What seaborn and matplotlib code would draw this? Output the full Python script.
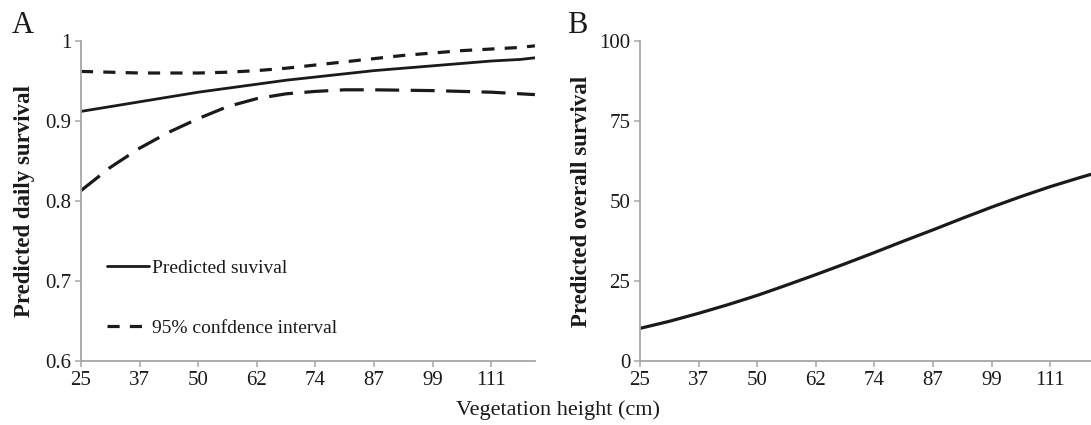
import numpy as np
import pandas as pd
import matplotlib
matplotlib.use("Agg")
import matplotlib.pyplot as plt
import seaborn as sns

# -------------------- Data --------------------
veg_height = [25, 31.17, 37.33, 43.5, 49.67, 55.83, 62, 68.17, 74.33, 80.5,
              86.67, 92.83, 99, 105.17, 111.33, 117.5, 120.5]
daily_pred = [0.912, 0.918, 0.924, 0.930, 0.936, 0.941, 0.946, 0.951, 0.955,
              0.959, 0.963, 0.966, 0.969, 0.972, 0.975, 0.977, 0.979]
daily_upper = [0.962, 0.961, 0.960, 0.960, 0.960, 0.961, 0.963, 0.966, 0.970,
               0.974, 0.978, 0.982, 0.985, 0.988, 0.990, 0.992, 0.994]
daily_lower = [0.813, 0.842, 0.866, 0.886, 0.903, 0.918, 0.928, 0.934, 0.937,
               0.939, 0.939, 0.9385, 0.938, 0.937, 0.936, 0.934, 0.933]
overall_pred = [10.2, 12.4, 14.9, 17.6, 20.5, 23.7, 27.0, 30.4, 33.9, 37.5,
                41.0, 44.6, 48.1, 51.4, 54.5, 57.3, 58.6]

tick_pos = [25 + i * 37 / 3 for i in range(8)]
tick_labels = ["25", "37", "50", "62", "74", "87", "99", "111"]
daily_ticks = [0.6, 0.7, 0.8, 0.9, 1]
daily_ticklabels = ["0.6", "0.7", "0.8", "0.9", "1"]
overall_ticks = [0, 25, 50, 75, 100]

# -------------------- Style --------------------
sns.set_theme(style="white")
plt.rcParams["font.family"] = ["Liberation Serif", "DejaVu Serif"]
GRAY = "#a6a6a6"
INK = "#1a1a1a"

fig = plt.figure(figsize=(10.91, 4.25), dpi=100)
axA = fig.add_axes([0.0742, 0.1506, 0.4161, 0.7529])
axB = fig.add_axes([0.5866, 0.1506, 0.4161, 0.7529])

dash = (7.5, 3.6)

# Panel A
sns.lineplot(x=veg_height, y=daily_pred, ax=axA, color=INK, lw=2.0,
             label="Predicted suvival")
sns.lineplot(x=veg_height, y=daily_upper, ax=axA, color=INK, lw=2.3,
             label="95% confdence interval")
axA.lines[-1].set_dashes(dash)
sns.lineplot(x=veg_height, y=daily_lower, ax=axA, color=INK, lw=2.3)
axA.lines[-1].set_dashes(dash)

axA.set_xlim(25, 120.5)
axA.set_ylim(0.6, 1)
axA.set_yticks(daily_ticks)
axA.set_yticklabels(daily_ticklabels)
axA.set_ylabel("Predicted daily survival", fontsize=16.5, fontweight="bold",
               color=INK)

handles, labels = axA.get_legend_handles_labels()
handles[1].set_dashes((3.8, 3.2))
axA.legend(handles, labels, loc="lower left", bbox_to_anchor=(0.018, 0.02),
           frameon=False, fontsize=14, labelspacing=2.2, handlelength=2.2,
           handletextpad=0.15, labelcolor=INK)

# Panel B
sns.lineplot(x=veg_height, y=overall_pred, ax=axB, color=INK, lw=2.3)
axB.set_xlim(25, 120.5)
axB.set_ylim(0, 100)
axB.set_yticks(overall_ticks)
axB.set_ylabel("Predicted overall survival", fontsize=16.5, fontweight="bold",
               color=INK)

for ax in (axA, axB):
    ax.set_xticks(tick_pos)
    ax.set_xticklabels(tick_labels)
    ax.set_xlabel("")
    for side in ("top", "right"):
        ax.spines[side].set_visible(False)
    for side in ("left", "bottom"):
        ax.spines[side].set_color(GRAY)
        ax.spines[side].set_linewidth(1.3)
    ax.tick_params(axis="both", which="both", direction="out", length=4,
                   width=1.1, color=GRAY, labelsize=15, labelcolor=INK,
                   left=True, bottom=True, pad=3)

axA.yaxis.set_label_coords(-0.102, 0.5)
axB.yaxis.set_label_coords(-0.106, 0.5)

fig.text(0.021, 0.94, "A", fontsize=22, color=INK, ha="center", va="center")
fig.text(0.529, 0.94, "B", fontsize=22, color=INK, ha="center", va="center")
fig.text(0.511, 0.035, "Vegetation height (cm)", fontsize=16, color=INK,
         ha="center", va="center")

fig.savefig("out.png", dpi=100)
